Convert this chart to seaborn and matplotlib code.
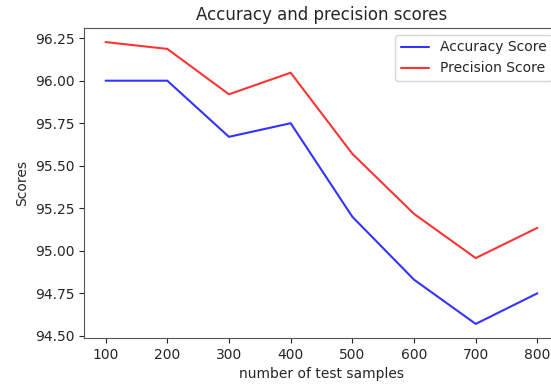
import matplotlib
matplotlib.use("Agg")
import matplotlib.pyplot as plt
import seaborn as sns
import pandas as pd

samples = [100, 200, 300, 400, 500, 600, 700, 800]
accuracy = [96.00, 96.00, 95.67, 95.75, 95.20, 94.83, 94.57, 94.75]
precision = [96.227, 96.187, 95.92, 96.047, 95.57, 95.217, 94.957, 95.135]
series_names = ["Accuracy Score", "Precision Score"]

sns.set_style("ticks")
plt.rcParams['font.family'] = ['DejaVu Sans']

df = pd.DataFrame({
    "samples": samples * 2,
    "score": accuracy + precision,
    "series": [series_names[0]] * len(samples) + [series_names[1]] * len(samples),
})

fig = plt.figure(figsize=(5.51, 3.85), dpi=100)
ax = fig.add_axes([84 / 551, 1 - 338 / 385, (559 - 84) / 551, (338 - 28) / 385])
sns.lineplot(data=df, x="samples", y="score", hue="series",
             palette={series_names[0]: "blue", series_names[1]: "red"},
             alpha=0.8, linewidth=1.5, ax=ax)
ax.set_xticks(samples)
ax.set_title("Accuracy and precision scores", fontsize=12)
ax.set_xlabel("number of test samples")
ax.set_ylabel("Scores")
leg = ax.legend(loc="upper right")
for sp in ax.spines.values():
    sp.set_visible(True)
    sp.set_color("#555555")
ax.spines["right"].set_visible(False)
fig.savefig("out.png", dpi=100)
